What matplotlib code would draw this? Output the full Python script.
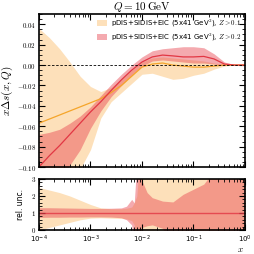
import numpy as np
import matplotlib
matplotlib.use('Agg')
import matplotlib.pyplot as plt
from matplotlib.patches import Patch
from matplotlib.ticker import AutoMinorLocator, FuncFormatter, LogLocator, NullFormatter

plt.rcParams['mathtext.fontset'] = 'cm'
plt.rcParams['font.family'] = ['DejaVu Sans']

# log10(x) sampling points of the curves
logx = [-4.0, -3.8, -3.6, -3.4, -3.2, -3.0, -2.8, -2.6, -2.4, -2.2, -2.0,
        -1.8, -1.6, -1.4, -1.2, -1.0, -0.8, -0.6, -0.4, -0.2, 0.0]

# Z > 0.1 (orange)
orange_c = [-0.057, -0.053, -0.049, -0.045, -0.041, -0.037, -0.033, -0.027, -0.020, -0.011, -0.002,
            0.001, 0.002, 0.000, -0.001, -0.002, -0.002, -0.001, 0.000, 0.000, 0.000]
orange_hi = [0.036, 0.027, 0.016, 0.003, -0.011, -0.021, -0.026, -0.022, -0.014, -0.005, 0.003,
             0.007, 0.008, 0.007, 0.006, 0.005, 0.004, 0.002, 0.001, 0.000, 0.000]
orange_lo = [-0.135, -0.128, -0.120, -0.111, -0.102, -0.083, -0.052, -0.036, -0.027, -0.018, -0.009,
             -0.008, -0.011, -0.014, -0.013, -0.010, -0.008, -0.004, -0.001, 0.000, 0.000]

# Z > 0.2 (red)
red_c = [-0.100, -0.089, -0.079, -0.068, -0.057, -0.046, -0.036, -0.025, -0.0145, -0.005, 0.003,
         0.008, 0.0098, 0.009, 0.008, 0.008, 0.0085, 0.006, 0.001, 0.000, 0.000]
red_hi = [-0.068, -0.066, -0.063, -0.057, -0.050, -0.041, -0.030, -0.019, -0.009, 0.000, 0.008,
          0.014, 0.016, 0.017, 0.018, 0.018, 0.017, 0.011, 0.003, 0.0005, 0.000]
red_lo = [-0.135, -0.125, -0.112, -0.098, -0.083, -0.062, -0.045, -0.031, -0.020, -0.010, -0.001,
          0.004, 0.005, 0.004, 0.003, 0.002, 0.002, 0.001, -0.0005, 0.000, 0.000]

# relative uncertainties (lower panel)
logx_rel = [-4.0, -3.8, -3.6, -3.4, -3.2, -3.0, -2.8, -2.6, -2.4, -2.3, -2.2, -2.15, -2.1, -2.05,
            -2.0, -1.9, -1.8, -1.6, -1.4, -1.2, -1.0, -0.8, -0.6, -0.4, -0.2, 0.0]
orange_rel_hi = [2.5, 2.35, 2.2, 2.0, 1.75, 1.5, 1.3, 1.25, 1.25, 1.28, 1.35, 1.6, 2.0, 4.0,
                 4.0, 4.0, 4.0, 4.0, 4.0, 4.0, 4.0, 4.0, 4.0, 4.0, 4.0, 4.0]
orange_rel_lo = [0.0, 0.15, 0.3, 0.45, 0.6, 0.7, 0.72, 0.7, 0.68, 0.65, 0.55, 0.3, -1.0, -1.0,
                 -1.0, -1.0, -1.0, -1.0, -1.0, -1.0, -1.0, -1.0, -1.0, -1.0, -1.0, -1.0]
red_rel_hi = [1.31, 1.31, 1.30, 1.29, 1.28, 1.27, 1.27, 1.28, 1.30, 1.4, 1.8, 1.6, 4.0, 4.0,
              2.9, 2.2, 1.9, 1.7, 1.65, 2.1, 2.4, 2.7, 3.5, 4.0, 4.0, 4.0]
red_rel_lo = [0.74, 0.75, 0.75, 0.76, 0.76, 0.77, 0.77, 0.76, 0.72, 0.6, 0.3, -1.0, -1.0, -1.0,
              0.15, 0.25, 0.3, 0.1, -1.0, -1.0, -1.0, -1.0, -1.0, -1.0, -1.0, -1.0]

c_orange_band = '#fde0ba'
c_orange_line = '#f5a52a'
c_red_band = '#e8434f'
c_red_line = '#e23744'

x = 10.0 ** np.array(logx)
xr = 10.0 ** np.array(logx_rel)

fig = plt.figure(figsize=(2.54, 2.54), dpi=100)
ax = fig.add_axes([0.1535, 0.3425, 0.811, 0.602])
ax2 = fig.add_axes([0.1535, 0.0945, 0.811, 0.2008])

# top panel
ax.fill_between(x, orange_lo, orange_hi, color=c_orange_band, lw=0)
ax.fill_between(x, red_lo, red_hi, color=c_red_band, alpha=0.45, lw=0)
ax.plot(x, orange_c, color=c_orange_line, lw=0.9)
ax.plot(x, red_c, color=c_red_line, lw=0.9)
ax.axhline(0, color='black', lw=0.6, ls=(0, (3, 2)))

ax.set_xscale('log')
ax.set_xlim(1e-4, 1)
ax.set_ylim(-0.10, 0.05)
ax.set_yticks([-0.10, -0.08, -0.06, -0.04, -0.02, 0.00, 0.02, 0.04])
ax.yaxis.set_minor_locator(AutoMinorLocator(4))
ax.yaxis.set_major_formatter(FuncFormatter(lambda v, p: r'$%.2f$' % v if abs(v) > 1e-9 else r'$0.00$'))
ax.xaxis.set_major_formatter(NullFormatter())
ax.xaxis.set_minor_formatter(NullFormatter())
ax.set_ylabel(r'$x\Delta s(x,Q)$', fontsize=8, labelpad=1)
ax.set_title(r'$Q = 10\,\mathrm{GeV}$', fontsize=8, pad=2)

handles = [Patch(facecolor=c_orange_band, edgecolor='none'),
           Patch(facecolor=c_red_band, alpha=0.45, edgecolor='none')]
labels = [r'pDIS+SIDIS+EIC (5x41 GeV$^2$), $Z > 0.1$',
          r'pDIS+SIDIS+EIC (5x41 GeV$^2$), $Z > 0.2$']
ax.legend(handles, labels, loc='upper right', fontsize=5.0, frameon=False,
          handlelength=1.4, handleheight=1.0, handletextpad=0.5, labelspacing=0.35,
          borderaxespad=0.25, borderpad=0.3)

# bottom panel
ax2.fill_between(xr, orange_rel_lo, orange_rel_hi, color=c_orange_band, lw=0)
ax2.fill_between(xr, red_rel_lo, red_rel_hi, color=c_red_band, alpha=0.45, lw=0)
ax2.axhline(1, color=c_red_line, lw=1.0, alpha=0.8)
ax2.set_xscale('log')
ax2.set_xlim(1e-4, 1)
ax2.set_ylim(0, 3)
ax2.set_yticks([0, 1, 2, 3])
ax2.yaxis.set_minor_locator(AutoMinorLocator(5))
ax2.yaxis.set_major_formatter(FuncFormatter(lambda v, p: r'$%d$' % v))
ax2.set_ylabel('rel. unc.', fontsize=5.5, labelpad=4)
xl = ax2.set_xlabel(r'$x$', fontsize=6.5)
xl.set_verticalalignment('center')
xl.set_horizontalalignment('right')
ax2.xaxis.set_label_coords(0.995, -0.39)

for a in (ax, ax2):
    a.xaxis.set_major_locator(LogLocator(base=10, numticks=10))
    a.xaxis.set_minor_locator(LogLocator(base=10, subs=np.arange(2, 10), numticks=10))
    a.tick_params(which='both', direction='in', top=True, right=True, labelsize=5, pad=2)
    a.tick_params(which='major', length=4, width=0.8)
    a.tick_params(which='minor', length=2, width=0.6)
    for s in a.spines.values():
        s.set_linewidth(1.2)
ax2.tick_params(axis='x', which='both', pad=3)

fig.savefig('out.png', dpi=100)
